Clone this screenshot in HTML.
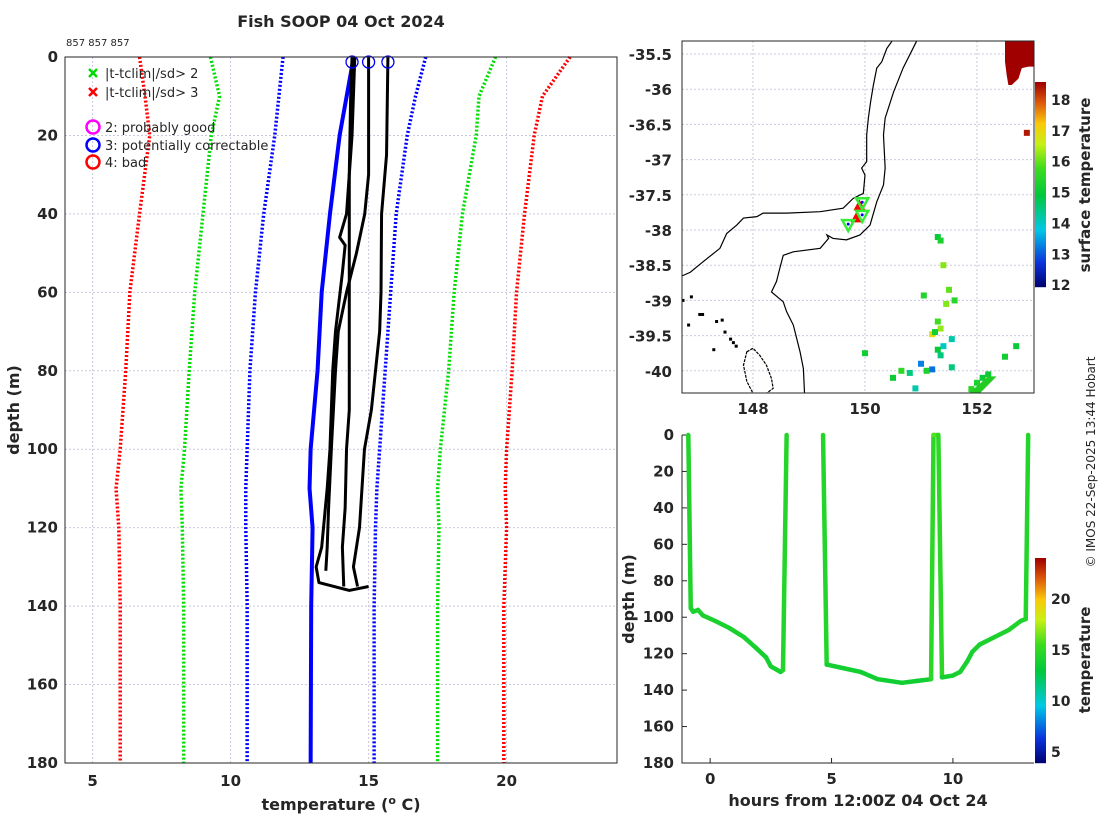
<!DOCTYPE html>
<html><head><meta charset="utf-8"><style>
body{margin:0;background:#fff;width:1100px;height:820px;overflow:hidden}
svg text{font-family:"DejaVu Sans","Liberation Sans",sans-serif;fill:#262626}
.tk{font-size:15px;font-weight:bold}
</style></head><body>
<svg id="s" width="1100" height="820" xmlns="http://www.w3.org/2000/svg">
<text x="341" y="27" text-anchor="middle" style="font-size:16px;font-weight:bold">Fish SOOP 04 Oct 2024</text>
<text x="66" y="46" style="font-size:10px">857 857 857</text>
<text transform="translate(19,410) rotate(-90)" text-anchor="middle" style="font-size:16px;font-weight:bold">depth (m)</text>
<text x="341" y="810" text-anchor="middle" style="font-size:16px;font-weight:bold">temperature (<tspan dy="-6" style="font-size:11px">o</tspan><tspan dy="6"> C)</tspan></text>
<text transform="translate(1090,185) rotate(-90)" text-anchor="middle" style="font-size:15px;font-weight:bold">surface temperature</text>
<text transform="translate(1090,660) rotate(-90)" text-anchor="middle" style="font-size:15px;font-weight:bold">temperature</text>
<text transform="translate(634,599) rotate(-90)" text-anchor="middle" style="font-size:16px;font-weight:bold">depth (m)</text>
<text x="858" y="806" text-anchor="middle" style="font-size:16px;font-weight:bold">hours from 12:00Z 04 Oct 24</text>
<text transform="translate(1095,462) rotate(-90)" text-anchor="middle" style="font-size:12px">© IMOS 22-Sep-2025 13:44 Hobart</text>
<g id="g"></g>
</svg>
<script>
// ===== profile chart data =====
const climDepths=[0,10,20,40,60,80,100,110,120,140,180];
const clim3Lo=[6.7,6.9,7.07,6.7,6.35,6.2,6.0,5.85,5.95,6.0,6.0];
const clim2Lo=[9.27,9.6,9.3,9.0,8.7,8.5,8.33,8.2,8.25,8.3,8.3];
const clim1Lo=[11.9,11.75,11.6,11.2,10.9,10.7,10.6,10.55,10.55,10.6,10.6];
const clim1Hi=[17.07,16.7,16.4,16.0,15.8,15.6,15.4,15.3,15.25,15.2,15.2];
const clim2Hi=[19.6,19.0,18.9,18.4,18.1,17.9,17.6,17.5,17.55,17.5,17.5];
const clim3Hi=[22.3,21.3,21.0,20.65,20.36,20.2,20.0,19.95,20.0,19.9,19.9];
const climMeanDepth=[0,20,40,60,80,100,110,120,140,180];
const climMean=[14.46,13.95,13.6,13.3,13.15,12.9,12.86,12.97,12.92,12.9];
const profADepth=[0,10,30,60,90,100,115,125,135];
const profATemp=[14.4,14.35,14.3,14.3,14.3,14.2,14.15,14.05,14.1];
const profBDepth=[0,30,40,50,60,70,80,100,115,125,131];
const profBTemp=[15.0,15.0,14.86,14.56,14.2,13.9,13.8,13.65,13.55,13.5,13.45];
const profCDepth=[0,25,40,60,70,80,90,100,120,130,135];
const profCTemp=[15.7,15.65,15.47,15.45,15.4,15.25,15.1,14.85,14.67,14.45,14.6];
const profDDepth=[0,20,40,46,48,55,70,80,100,110,125,130,134,136,135];
const profDTemp=[14.5,14.4,14.2,13.95,14.15,14.05,13.8,13.7,13.6,13.5,13.3,13.1,13.2,14.3,15.0];
const xTicks=[5,10,15,20];
const yTicks=[0,20,40,60,80,100,120,140,160,180];
// ===== track chart data =====
const trackHours1=[-0.9,-0.8,-0.7,-0.5,-0.3,0.2,0.8,1.4,1.9,2.3,2.5,2.9,3.0,3.15];
const trackDepth1=[0,95,97,96,99,102,106,111,117,122,127,130,129,0];
const trackTemp1=[14.5,14.3,14.2,14.2,14.2,14.1,14.1,14.0,14.0,13.9,13.9,13.9,13.9,15.2];
const trackHours2=[4.65,4.8,5.5,6.2,6.9,7.9,8.5,9.1,9.2,9.4,9.55,10.0,10.3,10.6,10.8,11.1,11.7,12.3,12.8,13.0,13.1];
const trackDepth2=[0,126,128,130,134,136,135,134,0,0,133,132,130,124,119,115,111,107,102,101,0];
const trackTemp2=[15.0,13.9,13.8,13.8,13.7,13.7,13.7,13.7,16.0,16.0,13.8,13.9,14.0,14.0,14.1,14.1,14.2,14.3,14.3,14.3,14.6];
const hourTicks=[0,5,10];
// ===== map data =====
const lonTicks=[148,150,152];
const latTicks=[-35.5,-36,-36.5,-37,-37.5,-38,-38.5,-39,-39.5,-40];
const coastLon=[146.74,146.88,147.11,147.41,147.53,147.71,147.83,148.07,148.18,148.6,149.2,149.61,149.79,149.97,150.0,149.94,150.03,150.03,150.06,150.1,150.15,150.21,150.3,150.39,150.48];
const coastLat=[-38.65,-38.6,-38.45,-38.26,-38.05,-37.93,-37.83,-37.81,-37.76,-37.76,-37.74,-37.69,-37.55,-37.48,-37.22,-37.12,-37.03,-36.65,-36.41,-36.18,-35.94,-35.7,-35.61,-35.42,-35.32];
const isoLon=[150.92,150.68,150.51,150.36,150.33,150.36,150.33,150.21,150.09,149.91,149.67,149.43,149.32,149.35,149.2,148.72,148.54,148.48,148.42,148.33,148.54,148.6,148.72,148.84,148.9,148.92];
const isoLat=[-35.32,-35.7,-36.04,-36.41,-36.65,-37.12,-37.36,-37.6,-37.93,-38.07,-38.14,-38.12,-38.07,-38.12,-38.26,-38.31,-38.36,-38.54,-38.73,-38.88,-39.02,-39.16,-39.35,-39.73,-39.97,-40.32];
const islandLon=[147.89,148.0,148.12,148.24,148.33,148.36,148.24,148.0,147.89,147.83];
const islandLat=[-39.73,-39.68,-39.78,-39.92,-40.11,-40.25,-40.32,-40.32,-40.15,-39.92];
const dotLon=[146.75,146.85,147.05,147.1,147.35,147.45,147.6,147.65,147.7,147.5,146.9,147.3];
const dotLat=[-39.0,-39.35,-39.2,-39.2,-39.3,-39.28,-39.55,-39.6,-39.65,-39.45,-38.95,-39.7];
const warmLon=[152.5,153.02,153.02,152.92,152.8,152.74,152.62,152.56,152.53,152.5];
const warmLat=[-35.32,-35.32,-35.68,-35.68,-35.7,-35.85,-35.94,-35.94,-35.8,-35.61];
const sstLon=[152.89,151.3,151.4,151.35,151.5,151.05,151.3,151.35,151.2,151.25,151.4,151.55,151.3,151.35,151.0,151.2,151.55,152.7,152.5,152.1,152.0,151.9,152.2,150.65,150.5,151.1,150.0,150.8,150.9,151.6,151.45];
const sstLat=[-36.62,-38.1,-38.5,-38.15,-38.85,-38.93,-39.3,-39.4,-39.48,-39.45,-39.65,-39.55,-39.7,-39.78,-39.9,-39.98,-39.95,-39.65,-39.8,-40.1,-40.17,-40.26,-40.05,-40.0,-40.1,-40.0,-39.75,-40.03,-40.25,-39.0,-39.05];
const sstVal=[18.4,15.0,16.2,15.3,16.0,15.4,15.8,16.3,17.0,15.2,14.0,14.2,15.0,14.5,13.3,13.2,14.5,15.0,15.2,15.1,15.3,15.5,15.1,15.6,15.1,15.3,15.2,14.5,14.2,15.5,16.2];
const triUpLon=[149.9,149.85];
const triUpLat=[-37.65,-37.82];
const triDnLon=[149.95,149.95,149.7];
const triDnLat=[-37.62,-37.8,-37.93];
const mapCbTicks=[12,13,14,15,16,17,18];
const trkCbTicks=[5,10,15,20];

const NS='http://www.w3.org/2000/svg';
const G=document.getElementById('g');
function mk(tag,at,parent){const e=document.createElementNS(NS,tag);for(const k in at)e.setAttribute(k,at[k]);(parent||G).appendChild(e);return e;}
function jet(t){t=Math.max(0,Math.min(1,t));
 const st=[[0,[0,0,110]],[0.12,[10,50,220]],[0.28,[0,200,230]],[0.45,[0,200,60]],[0.58,[60,220,30]],[0.7,[200,240,20]],[0.8,[250,200,10]],[0.9,[220,90,10]],[1,[160,0,0]]];
 for(let i=1;i<st.length;i++){if(t<=st[i][0]){const a=st[i-1],b=st[i],f=(t-a[0])/(b[0]-a[0]);return 'rgb('+a[1].map((v,j)=>Math.round(v+(b[1][j]-v)*f)).join(',')+')';}}return 'rgb(160,0,0)';}

// ===== profile chart =====
const PX=(v)=>65+(v-4)/20*552, PY=(d)=>57+d/180*706;
for(const t of xTicks){const l=mk('line',{x1:PX(t),x2:PX(t),y1:57,y2:763,stroke:'#c9c9dd','stroke-dasharray':'2,2'});

const tx=mk('text',{x:PX(t),y:786,'text-anchor':'middle',class:'tk'});tx.textContent=t;
}
for(const d of yTicks){const l=mk('line',{x1:65,x2:617,y1:PY(d),y2:PY(d),stroke:'#c9c9dd','stroke-dasharray':'2,2'});

const tx=mk('text',{x:58,y:PY(d)+5,'text-anchor':'end',class:'tk'});tx.textContent=d;
}
function pline(xs,ds,style,name){const p=mk('polyline',Object.assign({points:xs.map((v,i)=>PX(v)+','+PY(ds[i])).join(' '),fill:'none','stroke-linejoin':'round'},style));
}
const dot={'stroke-width':3.5,'stroke-dasharray':'2,2'};
pline(clim3Lo,climDepths,Object.assign({stroke:'#ff0000'},dot),'clim-minus-3sd');
pline(clim2Lo,climDepths,Object.assign({stroke:'#00dd00'},dot),'clim-minus-2sd');
pline(clim1Lo,climDepths,Object.assign({stroke:'#0000ff'},dot),'clim-minus-1sd');
pline(clim1Hi,climDepths,Object.assign({stroke:'#0000ff'},dot),'clim-plus-1sd');
pline(clim2Hi,climDepths,Object.assign({stroke:'#00dd00'},dot),'clim-plus-2sd');
pline(clim3Hi,climDepths,Object.assign({stroke:'#ff0000'},dot),'clim-plus-3sd');
pline(climMean,climMeanDepth,{stroke:'#0000ff','stroke-width':4},'clim-mean-line');
pline(profATemp,profADepth,{stroke:'#000','stroke-width':3},'profile-a');
pline(profBTemp,profBDepth,{stroke:'#000','stroke-width':3},'profile-b');
pline(profCTemp,profCDepth,{stroke:'#000','stroke-width':3},'profile-c');
pline(profDTemp,profDDepth,{stroke:'#000','stroke-width':3},'profile-d');
for(const v of [profATemp[0],profBTemp[0],profCTemp[0]]){const c=mk('circle',{cx:PX(v),cy:62,r:6,fill:'none',stroke:'#0000ff','stroke-width':1.3});
}
const fr=mk('rect',{x:65,y:57,width:552,height:706,fill:'none',stroke:'#262626','stroke-width':1});

// legend
const leg=[['x','#00dd00','|t-tclim|/sd> 2',73],['x','#ff0000','|t-tclim|/sd> 3',92],['o','#ff00ff','2: probably good',127],['o','#0000ff','3: potentially correctable',145],['o','#ff0000','4: bad',162]];
for(const [m,c,t,y] of leg){const g=mk('g',{});
if(m==='x'){mk('path',{d:`M89 ${y-4}L97 ${y+4}M97 ${y-4}L89 ${y+4}`,stroke:c,'stroke-width':2.5},g);}
else mk('circle',{cx:93,cy:y,r:6.5,fill:'none',stroke:c,'stroke-width':2.5},g);
const tx=mk('text',{x:105,y:y+5,style:'font-size:13px'},g);tx.textContent=t;}

// ===== map =====
const MX=(l)=>753+(l-148)*56, MY=(a)=>54+(-35.5-a)*70.4;
const mc=mk('clipPath',{id:'mclip'});mk('rect',{x:682,y:41,width:352,height:352},mc);
for(const l of lonTicks){const e=mk('line',{x1:MX(l),x2:MX(l),y1:41,y2:393,stroke:'#c9c9dd','stroke-dasharray':'2,2'});

const tx=mk('text',{x:MX(l),y:414,'text-anchor':'middle',class:'tk'});tx.textContent=l;
}
for(const a of latTicks){const e=mk('line',{x1:682,x2:1034,y1:MY(a),y2:MY(a),stroke:'#c9c9dd','stroke-dasharray':'2,2'});

const tx=mk('text',{x:672,y:MY(a)+6,'text-anchor':'end',class:'tk'});tx.textContent=a;
}
const mg=mk('g',{'clip-path':'url(#mclip)'});
const warm=mk('polygon',{points:warmLon.map((v,i)=>MX(v)+','+MY(warmLat[i])).join(' '),fill:'#a00000'},mg);

for(let i=0;i<sstLon.length;i++){const r=mk('rect',{x:MX(sstLon[i])-3,y:MY(sstLat[i])-3,width:6,height:6,fill:jet((sstVal[i]-11.94)/6.64)},mg);
}
const strip=mk('polygon',{points:[[151.85,-40.32],[152.2,-40.08],[152.35,-40.08],[152.05,-40.32]].map(p=>MX(p[0])+','+MY(p[1])).join(' '),fill:'#22cc22'},mg);

const cl=mk('polyline',{points:coastLon.map((v,i)=>MX(v)+','+MY(coastLat[i])).join(' '),fill:'none',stroke:'#000','stroke-width':1.2},mg);

const iso=mk('polyline',{points:isoLon.map((v,i)=>MX(v)+','+MY(isoLat[i])).join(' '),fill:'none',stroke:'#000','stroke-width':1.2},mg);

const isl=mk('polygon',{points:islandLon.map((v,i)=>MX(v)+','+MY(islandLat[i])).join(' '),fill:'none',stroke:'#000','stroke-width':1.2,'stroke-dasharray':'3,1'},mg);

for(let i=0;i<dotLon.length;i++){const d=mk('rect',{x:MX(dotLon[i])-1.5,y:MY(dotLat[i])-1.5,width:3,height:3,fill:'#000'},mg);
}
for(let i=0;i<triUpLon.length;i++){const x=MX(triUpLon[i]),y=MY(triUpLat[i]);const t=mk('polygon',{points:`${x-6},${y+5} ${x+6},${y+5} ${x},${y-6}`,fill:'#ff0000'},mg);
}
for(let i=0;i<triDnLon.length;i++){const x=MX(triDnLon[i]),y=MY(triDnLat[i]);const t=mk('polygon',{points:`${x-6},${y-5} ${x+6},${y-5} ${x},${y+6}`,fill:'none',stroke:'#33ee33','stroke-width':2.5},mg);

const b=mk('circle',{cx:x,cy:y-1,r:1.5,fill:'#0000ff'},mg);}
const mf=mk('rect',{x:682,y:41,width:352,height:352,fill:'none',stroke:'#262626'});

// map colorbar
for(let i=0;i<205;i++){const r=mk('rect',{x:1035,y:82+i,width:11,height:1.2,fill:jet(1-i/205)});
}
const CY1=(v)=>287-(v-11.94)/6.64*205;
for(const v of mapCbTicks){const tx=mk('text',{x:1051,y:CY1(v)+5,class:'tk',style:'font-size:14px'});tx.textContent=v;
}

// ===== track chart =====
const TX=(h)=>682+(h+1.16)/14.5*352, TY=(d)=>435+d/180*328;
const axL=mk('path',{d:'M682 435V763H1034',fill:'none',stroke:'#262626'});

for(const d of yTicks){const tx=mk('text',{x:674,y:TY(d)+5,'text-anchor':'end',class:'tk'});tx.textContent=d;

mk('line',{x1:682,x2:687,y1:TY(d),y2:TY(d),stroke:'#262626'});}
for(const h of hourTicks){const tx=mk('text',{x:TX(h),y:784,'text-anchor':'middle',class:'tk'});tx.textContent=h;

mk('line',{x1:TX(h),x2:TX(h),y1:763,y2:758,stroke:'#262626'});}
function track(hs,ds,ts){for(let i=1;i<hs.length;i++){const s=mk('line',{x1:TX(hs[i-1]),y1:TY(ds[i-1]),x2:TX(hs[i]),y2:TY(ds[i]),stroke:jet((((ts[i-1]+ts[i])/2)-3.9)/20.1),'stroke-width':4.5,'stroke-linecap':'round'});
}}
track(trackHours1,trackDepth1,trackTemp1);
track(trackHours2,trackDepth2,trackTemp2);
for(let i=0;i<205;i++){const r=mk('rect',{x:1035,y:558+i,width:11,height:1.2,fill:jet(1-i/205)});
}
const CY2=(v)=>763-(v-3.9)/20.1*205;
for(const v of trkCbTicks){const tx=mk('text',{x:1051,y:CY2(v)+5,class:'tk',style:'font-size:14px'});tx.textContent=v;
}
</script>
</body></html>
